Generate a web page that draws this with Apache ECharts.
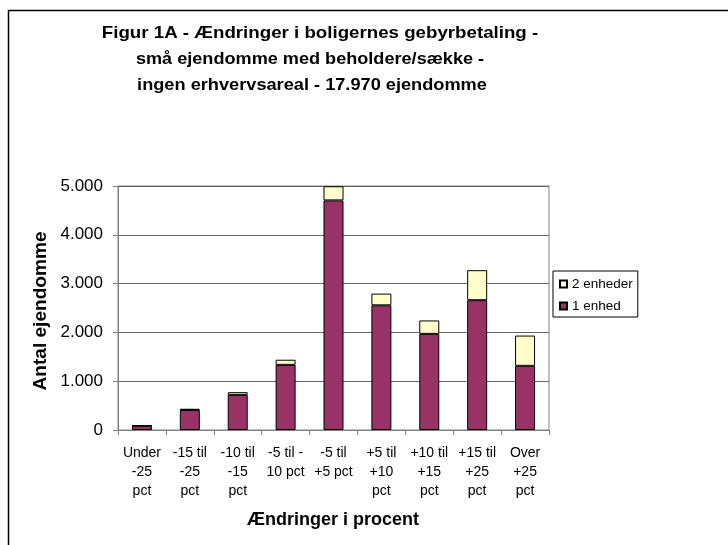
<!DOCTYPE html>
<html>
<head>
<meta charset="utf-8">
<script src="https://cdn.jsdelivr.net/npm/echarts@6/dist/echarts.min.js"></script>
<style>
html,body{margin:0;padding:0;background:#fff;}
#c{width:728px;height:545px;}
</style>
</head>
<body>
<div id="c"></div>
<script>
const categories = ['Under\n-25\npct', '-15 til\n-25\npct', '-10 til\n-15\npct', '-5 til -\n10 pct', '-5 til\n+5 pct', '+5 til\n+10\npct', '+10 til\n+15\npct', '+15 til\n+25\npct', 'Over\n+25\npct'];
const enhed1 = [85, 410, 720, 1335, 4705, 2555, 1970, 2660, 1315];
const enheder2 = [10, 25, 55, 105, 290, 240, 275, 615, 620];
const yTicks = [0, 1000, 2000, 3000, 4000, 5000];
const titleLines = ['Figur 1A - Ændringer i boligernes gebyrbetaling -', 'små ejendomme med beholdere/sække -', 'ingen erhvervsareal - 17.970 ejendomme'];

const FONT = "'Liberation Sans', Arial, sans-serif";
const BOLD17 = "bold 17px 'Liberation Sans', Arial, sans-serif";
const chart = echarts.init(document.getElementById('c'), null, {renderer: 'canvas'});
const fmt = v => String(v).replace(/\B(?=(\d{3})+(?!\d))/g, '.');

const titleLayout = [{x: 320, y: 33, s: 1.1}, {x: 310, y: 59, s: 1.065}, {x: 312, y: 85, s: 1.07}];
const titleGraphics = titleLines.map((t, i) => ({
  type: 'text', x: titleLayout[i].x, y: titleLayout[i].y, scaleX: titleLayout[i].s,
  style: {x: 0, y: 0, text: t, font: BOLD17, fill: '#000', align: 'center', verticalAlign: 'middle'}
}));

chart.setOption({
  animation: false,
  backgroundColor: '#fff',
  textStyle: {fontFamily: FONT},
  graphic: [
    {type: 'rect', shape: {x: 8.5, y: 10.5, width: 900, height: 700}, style: {fill: 'none', stroke: '#000', lineWidth: 1.5}, z: 100},
    ...titleGraphics,
    {type: 'text', x: 41, y: 311, rotation: Math.PI / 2, scaleX: 1.06, style: {
      x: 0, y: 0, text: 'Antal ejendomme',
      font: "bold 18px 'Liberation Sans', Arial, sans-serif", fill: '#000', align: 'center', verticalAlign: 'middle'
    }},
    {type: 'text', x: 333, y: 520, style: {
      x: 0, y: 0, text: 'Ændringer i procent',
      font: "bold 18px 'Liberation Sans', Arial, sans-serif", fill: '#000', align: 'center', verticalAlign: 'middle'
    }}
  ],
  grid: {left: 118, right: 179, top: 186, bottom: 115, show: true, borderColor: '#808080', borderWidth: 1},
  legend: {
    data: ['2 enheder', '1 enhed'],
    orient: 'vertical', left: 553, top: 271,
    itemWidth: 7, itemHeight: 7, itemGap: 8,
    padding: [6, 5, 4, 6],
    borderColor: '#000', borderWidth: 1,
    textStyle: {fontSize: 13.5, color: '#000', fontFamily: FONT},
    icon: 'rect'
  },
  xAxis: {
    type: 'category', data: categories,
    axisLine: {lineStyle: {color: '#808080'}},
    axisTick: {show: true, length: 5, lineStyle: {color: '#808080'}},
    axisLabel: {interval: 0, fontSize: 14, color: '#000', lineHeight: 19, margin: 14, fontFamily: FONT}
  },
  yAxis: {
    type: 'value', min: 0, max: 5000, interval: 1000,
    axisLine: {show: true, lineStyle: {color: '#808080'}},
    axisTick: {show: true, length: 5, lineStyle: {color: '#808080'}},
    splitLine: {lineStyle: {color: '#666', width: 1}},
    axisLabel: {fontSize: 17, color: '#000', margin: 15, fontFamily: FONT,
      formatter: v => yTicks.includes(v) ? fmt(v) : ''}
  },
  series: [
    {name: '1 enhed', type: 'bar', stack: 'a', data: enhed1, barWidth: 20,
      itemStyle: {color: '#993366', borderColor: '#000', borderWidth: 1}},
    {name: '2 enheder', type: 'bar', stack: 'a', data: enheder2, barWidth: 20,
      itemStyle: {color: '#FFFFCC', borderColor: '#000', borderWidth: 1}}
  ]
});
</script>
</body>
</html>
